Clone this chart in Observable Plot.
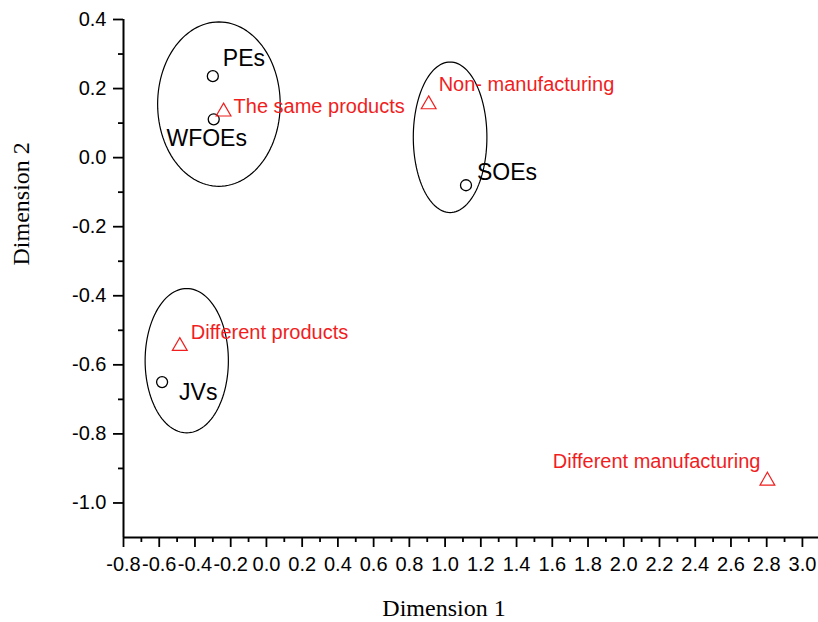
<!DOCTYPE html>
<html>
<head>
<meta charset="utf-8">
<script src="https://cdn.jsdelivr.net/npm/d3@7"></script>
<script src="https://cdn.jsdelivr.net/npm/@observablehq/plot@0.6"></script>
<style>
  html, body { margin: 0; padding: 0; background: #fff; }
  #chart svg { display: block; }
</style>
</head>
<body>
<div id="chart"></div>
<script>
// Ownership groups (open circles)
const groupNames = ["PEs", "WFOEs", "SOEs", "JVs"];
const groupDim1 = [-0.300, -0.295, 1.117, -0.584];
const groupDim2 = [0.236, 0.111, -0.080, -0.650];

// Diversification types (open triangles)
const typeNames = ["The same products", "Non- manufacturing", "Different products", "Different manufacturing"];
const typeDim1 = [-0.240, 0.908, -0.485, 2.804];
const typeDim2 = [0.133, 0.154, -0.546, -0.936];

// Cluster outlines: centre and semi-axes in dimension units
const clusterDim1 = [-0.266, 1.028, -0.446];
const clusterDim2 = [0.155, 0.059, -0.588];
const clusterRadius1 = [0.343, 0.206, 0.233];
const clusterRadius2 = [0.238, 0.218, 0.209];

// Axis ticks
const xTicks = [-0.8, -0.6, -0.4, -0.2, 0.0, 0.2, 0.4, 0.6, 0.8, 1.0, 1.2, 1.4, 1.6, 1.8, 2.0, 2.2, 2.4, 2.6, 2.8, 3.0];
const xMinorTicks = [-0.7, -0.5, -0.3, -0.1, 0.1, 0.3, 0.5, 0.7, 0.9, 1.1, 1.3, 1.5, 1.7, 1.9, 2.1, 2.3, 2.5, 2.7, 2.9];
const yTicks = [-1.0, -0.8, -0.6, -0.4, -0.2, 0.0, 0.2, 0.4];
const yMinorTicks = [-0.9, -0.7, -0.5, -0.3, -0.1, 0.1, 0.3];

const groups = groupNames.map((name, i) => ({name, x: groupDim1[i], y: groupDim2[i]}));
const types = typeNames.map((name, i) => ({name, x: typeDim1[i], y: typeDim2[i]}));

// Sample each cluster ellipse as a closed outline
const outline = clusterDim1.flatMap((cx, k) =>
  d3.range(0, 360, 3).map(a => {
    const t = a * Math.PI / 180;
    return {k, x: cx + clusterRadius1[k] * Math.cos(t), y: clusterDim2[k] + clusterRadius2[k] * Math.sin(t)};
  })
);

// Label placement relative to each marker (pixels)
const groupLabelPos = {
  "PEs": {dx: 10, dy: -18, textAnchor: "start"},
  "WFOEs": {dx: -7, dy: 19, textAnchor: "middle"},
  "SOEs": {dx: 11, dy: -13, textAnchor: "start"},
  "JVs": {dx: 17, dy: 11, textAnchor: "start"}
};
const typeLabelPos = {
  "The same products": {dx: 10, dy: -5, textAnchor: "start"},
  "Non- manufacturing": {dx: 10, dy: -20, textAnchor: "start"},
  "Different products": {dx: 11, dy: -14, textAnchor: "start"},
  "Different manufacturing": {dx: -7, dy: -19, textAnchor: "end"}
};

const sans = "Arial, 'Liberation Sans', sans-serif";
const serif = "'Times New Roman', 'Liberation Serif', serif";
const red = "#f01e1e";
const fmt = d => d.toFixed(1);

const chart = Plot.plot({
  width: 818,
  height: 622,
  marginLeft: 123,
  marginRight: 0,
  marginTop: 19,
  marginBottom: 85,
  style: {fontFamily: sans, background: "#fff", color: "#000"},
  x: {domain: [-0.8, 3.09]},
  y: {domain: [-1.1, 0.4]},
  marks: [
    // minor ticks
    Plot.axisX(xMinorTicks, {tickSize: 5, strokeWidth: 1.8, text: null, label: null}),
    Plot.axisY(yMinorTicks, {tickSize: 5, strokeWidth: 1.8, text: null, label: null}),
    // major ticks with labels
    Plot.axisX(xTicks, {tickSize: 10, tickPadding: 9, strokeWidth: 1.8, tickFormat: fmt, fontSize: 20, label: null}),
    Plot.axisY(yTicks, {tickSize: 10, tickPadding: 7, strokeWidth: 1.8, tickFormat: fmt, fontSize: 20, label: null}),
    // axis lines
    Plot.ruleX([-0.8], {strokeWidth: 2}),
    Plot.ruleY([-1.1], {strokeWidth: 2}),
    // cluster ellipses
    Plot.line(outline, {x: "x", y: "y", z: "k", curve: "linear-closed", stroke: "#000", strokeWidth: 1.2}),
    // points
    Plot.dot(groups, {x: "x", y: "y", r: 5.5, symbol: "circle", stroke: "#000", strokeWidth: 1.3, fill: "none"}),
    Plot.dot(types, {x: "x", y: "y", r: 5.5, symbol: "triangle", stroke: red, strokeWidth: 1.2, fill: "none"}),
    // labels
    ...groups.map(g => Plot.text([g], {
      x: "x", y: "y", text: "name", fontSize: 23, fill: "#000", lineAnchor: "middle",
      ...groupLabelPos[g.name]
    })),
    ...types.map(t => Plot.text([t], {
      x: "x", y: "y", text: "name", fontSize: 20, fill: red, lineAnchor: "middle",
      ...typeLabelPos[t.name]
    })),
    // axis titles
    Plot.text(["Dimension 1"], {frameAnchor: "bottom", dx: -27, dy: 78, lineAnchor: "bottom", fontFamily: serif, fontSize: 24, fill: "#000"}),
    Plot.text(["Dimension 2"], {frameAnchor: "left", dx: -102, dy: -13, rotate: -90, lineAnchor: "middle", fontFamily: serif, fontSize: 24, fill: "#000"})
  ]
});

document.getElementById("chart").appendChild(chart);
</script>
</body>
</html>
